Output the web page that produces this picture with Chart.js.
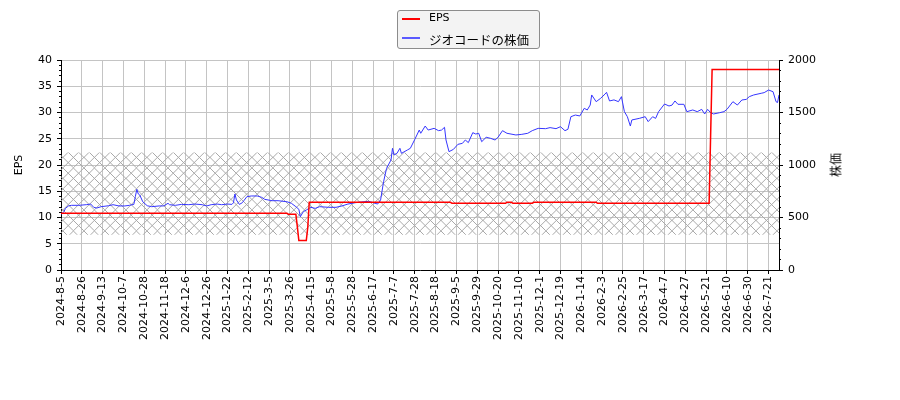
<!DOCTYPE html>
<html><head><meta charset="utf-8">
<script src="https://cdn.jsdelivr.net/npm/chart.js@4"></script>
<style>
body{margin:0;background:#fff;}
#wrap{position:relative;width:900px;height:400px;}
#legend{position:absolute;left:397px;top:10px;width:141px;height:37px;border:1px solid #8c8c8c;border-radius:3px;background:#f3f3f3;}
.row{position:absolute;left:4px;height:16px;line-height:16px;white-space:nowrap;}
.sw{position:absolute;left:0;top:7px;width:18px;height:2px;}
.tx{position:absolute;left:27px;top:0;}
#rtitle{position:absolute;left:835px;top:165px;transform:translate(-50%,-50%) rotate(-90deg);font:12px "Noto Sans CJK JP";color:#000;white-space:nowrap;}
</style></head>
<body>
<div id="wrap">
<canvas id="c" width="900" height="400"></canvas>
<div id="legend">
  <div class="row" style="top:0px"><span class="sw" style="background:#ff0000"></span><span class="tx" style="font:11px 'DejaVu Sans'">EPS</span></div>
  <div class="row" style="top:19px"><span class="sw" style="background:#5a5aff"></span><span class="tx" style="font:12.5px 'Noto Sans CJK JP'">ジオコードの株価</span></div>
</div>
<div id="rtitle">株価</div>
</div>
<script>
const tickLabels = ["2024-8-5","2024-8-26","2024-9-13","2024-10-7","2024-10-28","2024-11-18","2024-12-6","2024-12-26","2025-1-22","2025-2-12","2025-3-5","2025-3-26","2025-4-15","2025-5-8","2025-5-28","2025-6-17","2025-7-7","2025-7-28","2025-8-18","2025-9-5","2025-9-29","2025-10-20","2025-11-10","2025-12-1","2025-12-19","2026-1-14","2026-2-3","2026-2-25","2026-3-17","2026-4-7","2026-4-27","2026-5-21","2026-6-10","2026-6-30","2026-7-21"];
const tickStep = 14;
const lastIndex = 483;

// EPS (left axis), trading-day index -> value
const epsIdx = [0,152,153,158,159,160,165,166,167,262,263,299,300,303,304,317,318,360,361,436,437,438,483];
const epsVal = [10.8,10.8,10.6,10.6,8.2,5.6,5.6,8.1,12.9,12.9,12.7,12.7,12.9,12.9,12.7,12.7,12.9,12.9,12.7,12.7,25.6,38.2,38.2];

// Share price (right axis)
const priceIdx = [0,2,3,5,7,12,17,20,22,24,27,32,35,39,43,46,49,50,51,52,53,55,58,61,66,69,72,73,77,81,86,90,95,98,101,105,108,112,115,116,117,118,120,122,123,125,128,132,135,137,142,146,152,155,158,160,161,163,165,168,171,174,180,185,189,193,198,202,207,210,213,215,217,219,222,223,224,226,228,229,233,235,238,241,242,245,247,251,254,256,258,259,261,264,267,270,272,274,277,279,281,283,286,289,292,294,297,300,306,310,314,317,321,326,329,333,336,339,341,343,346,349,352,354,356,357,360,363,366,367,369,372,375,377,379,381,383,384,389,393,395,398,400,402,406,409,411,413,415,419,421,425,428,431,433,435,437,439,443,446,448,452,455,458,461,463,466,471,473,476,479,481,482,483];
const priceVal = [530,555,587,610,616,616,622,628,597,590,603,612,622,610,610,616,625,698,768,724,714,650,612,603,610,610,635,622,616,625,622,628,622,610,622,628,622,628,625,640,724,667,625,641,660,698,705,705,692,673,660,660,650,635,603,578,508,555,571,597,587,603,597,597,610,628,641,648,654,641,628,667,841,968,1048,1159,1095,1111,1159,1111,1143,1159,1244,1333,1302,1371,1333,1349,1327,1333,1359,1238,1127,1149,1197,1206,1238,1213,1308,1295,1302,1222,1264,1254,1238,1264,1327,1302,1286,1292,1302,1327,1349,1346,1356,1346,1365,1327,1340,1460,1476,1467,1540,1524,1571,1667,1603,1635,1676,1692,1610,1620,1603,1651,1508,1460,1371,1429,1444,1460,1413,1460,1444,1508,1581,1562,1570,1610,1578,1578,1508,1524,1508,1530,1486,1530,1498,1486,1498,1508,1530,1603,1571,1619,1625,1651,1667,1683,1689,1714,1698,1603,1595,1667];

// Hatched band (left axis units)
const bandTop = 22.4;
const bandBottom = 6.7;

function makeHatch(){
  const p = 10.4, T = 20.8;
  const c = document.createElement('canvas');
  c.width = 21; c.height = 21;
  const g = c.getContext('2d');
  g.strokeStyle = '#a9a9a9'; g.lineWidth = 1;
  g.beginPath();
  for (let k=-3;k<=3;k++){
    g.moveTo(k*p,0); g.lineTo(k*p+T,T);
    g.moveTo(k*p,T); g.lineTo(k*p+T,0);
  }
  g.stroke();
  return g.createPattern(c,'repeat');
}

Chart.defaults.font.family = "'DejaVu Sans'";
Chart.defaults.font.size = 11;
Chart.defaults.color = '#000';

const ctx = document.getElementById('c').getContext('2d');
new Chart(ctx,{
  type:'line',
  data:{datasets:[
    {label:'EPS', data: epsIdx.map((x,i)=>({x, y: epsVal[i]})), borderColor:'#ff0000', borderWidth:1.5, pointRadius:0, yAxisID:'y', order:1, tension:0},
    {label:'ジオコードの株価', data: priceIdx.map((x,i)=>({x, y: priceVal[i]})), borderColor:'#3535ff', borderWidth:1, pointRadius:0, yAxisID:'y2', order:2, tension:0},
    {label:'band', data:[{x:0,y:bandTop},{x:lastIndex,y:bandTop}], borderWidth:0, borderColor:'rgba(0,0,0,0)', pointRadius:0, backgroundColor: makeHatch(), fill:{value:bandBottom}, yAxisID:'y', order:10}
  ]},
  options:{
    responsive:false, animation:false,
    layout:{padding:{top:60,left:0,right:0,bottom:0}},
    plugins:{legend:{display:false}, tooltip:{enabled:false}},
    scales:{
      x:{type:'linear', min:0, max:lastIndex,
         afterFit:s=>{s.height=130;},
         ticks:{stepSize:tickStep, includeBounds:false, autoSkip:false, maxTicksLimit:100, minRotation:90, maxRotation:90, padding:2,
                callback:v=>tickLabels[Math.round(v/tickStep)] ?? ''},
         grid:{color:'#c4c4c4', tickColor:'#000', tickLength:4, lineWidth:1},
         border:{color:'#000', width:1}},
      y:{position:'left', min:0, max:40, weight:1,
         afterFit:s=>{s.width=61;},
         ticks:{stepSize:5, padding:5, callback:v=>String(v)},
         title:{display:true, text:'EPS', padding:{top:13,bottom:0}},
         grid:{color:'#c4c4c4', tickColor:'#000', tickLength:4},
         border:{color:'#000', width:1}},
      yMinorL:{position:'left', min:0, max:40, weight:0,
         afterFit:s=>{s.width=0;},
         ticks:{display:false, stepSize:1, maxTicksLimit:100},
         grid:{drawOnChartArea:false, tickColor:'#000', tickLength:2},
         border:{display:false}},
      y2:{position:'right', min:0, max:2000, weight:1,
         afterFit:s=>{s.width=121;},
         ticks:{stepSize:500, padding:5, callback:v=>String(v)},
         grid:{drawOnChartArea:false, tickColor:'#000', tickLength:4},
         border:{color:'#000', width:1}},
      yMinorR:{position:'right', min:0, max:2000, weight:0,
         afterFit:s=>{s.width=0;},
         ticks:{display:false, stepSize:100, maxTicksLimit:100},
         grid:{drawOnChartArea:false, tickColor:'#000', tickLength:2},
         border:{display:false}}
    }
  }
});
</script>
</body></html>
